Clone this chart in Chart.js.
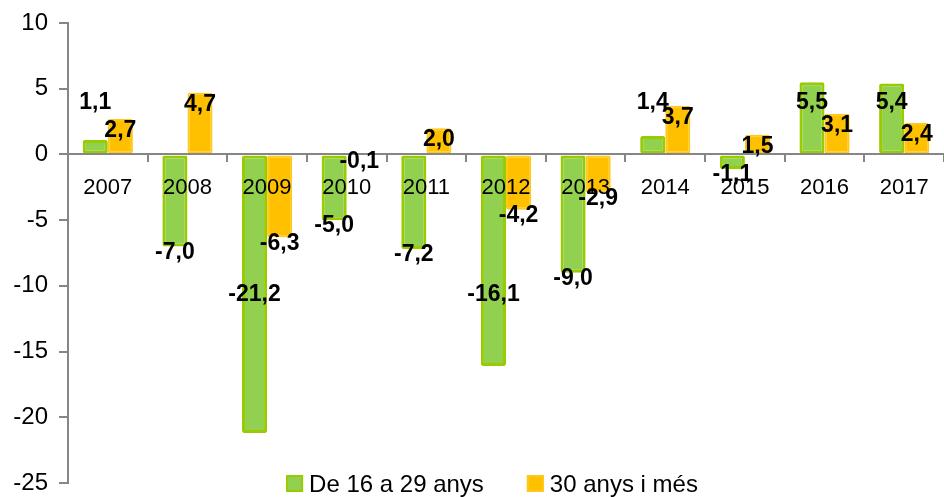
<!DOCTYPE html>
<html>
<head>
<meta charset="utf-8">
<script src="https://cdn.jsdelivr.net/npm/chart.js@4/dist/chart.umd.min.js"></script>
<style>
  html, body { margin: 0; padding: 0; background: #fff; }
  #wrap { width: 944px; height: 497px; }
</style>
</head>
<body>
<div id="wrap"><canvas id="atur"></canvas></div>
<script>
const years = ["2007", "2008", "2009", "2010", "2011", "2012", "2013", "2014", "2015", "2016", "2017"];
const joves = [1.1, -7.0, -21.2, -5.0, -7.2, -16.1, -9.0, 1.4, -1.1, 5.5, 5.4];
const grans = [2.7, 4.7, -6.3, -0.1, 2.0, -4.2, -2.9, 3.7, 1.5, 3.1, 2.4];
const seriesNames = ["De 16 a 29 anys", "30 anys i més"];

const FONT = "'Liberation Sans', Arial, sans-serif";
const AXIS = "#868686";

// etiquetes de valor amb coma decimal
const valueLabels = {
    id: "valueLabels",
    afterDraw(chart) {
        const ctx = chart.ctx;
        const zeroY = chart.scales.y.getPixelForValue(0);
        ctx.save();
        ctx.font = "bold 23px " + FONT;
        ctx.fillStyle = "#000";
        ctx.textAlign = "center";
        ctx.textBaseline = "middle";
        chart.data.datasets.forEach((ds, di) => {
            chart.getDatasetMeta(di).data.forEach((bar, i) => {
                const v = ds.data[i];
                let y;
                if (v >= 0) {
                    y = di === 0 ? zeroY - 52 : bar.y + 12;
                } else {
                    y = Math.min(bar.y + 6, zeroY + 140);
                }
                ctx.fillText(v.toFixed(1).replace(".", ","), bar.x, y);
            });
        });
        ctx.restore();
    }
};

// llegenda dibuixada dins l'area del grafic, com a l'original
const bottomLegend = {
    id: "bottomLegend",
    afterDraw(chart) {
        const ctx = chart.ctx;
        const area = chart.chartArea;
        const box = 17, gap = 6, spacing = 43;
        ctx.save();
        ctx.font = "24px " + FONT;
        ctx.textBaseline = "middle";
        ctx.textAlign = "left";
        const items = chart.data.datasets.map(ds => ({ ds, w: ctx.measureText(ds.label).width }));
        const total = items.reduce((s, it) => s + box + gap + it.w, 0) + spacing * (items.length - 1);
        let x = (area.left + area.right) / 2 - total / 2 - 14;
        const y = chart.height - 13.5;
        items.forEach(it => {
            ctx.fillStyle = it.ds.backgroundColor;
            ctx.fillRect(x, y - box / 2, box, box);
            ctx.strokeStyle = it.ds.borderColor;
            ctx.lineWidth = 2;
            ctx.strokeRect(x + 1, y - box / 2 + 1, box - 2, box - 2);
            ctx.fillStyle = "#000";
            ctx.fillText(it.ds.label, x + box + gap, y + 2);
            x += box + gap + it.w + spacing;
        });
        ctx.restore();
    }
};

new Chart(document.getElementById("atur"), {
    type: "bar",
    data: {
        labels: years,
        datasets: [{
            label: seriesNames[0],
            data: joves,
            backgroundColor: "#92D050",
            borderColor: "#99CC00",
            borderWidth: 3,
            borderSkipped: false,
            borderRadius: 2
        }, {
            label: seriesNames[1],
            data: grans,
            backgroundColor: "#FFC000",
            borderColor: "#FFC81A",
            borderWidth: 2,
            borderSkipped: false,
            borderRadius: 2
        }]
    },
    options: {
        responsive: true,
        maintainAspectRatio: false,
        animation: false,
        categoryPercentage: 0.63,
        barPercentage: 1.0,
        layout: { padding: { top: 23, bottom: 14, right: 0, left: 0 } },
        plugins: {
            legend: { display: false },
            tooltip: { enabled: false }
        },
        scales: {
            x: {
                position: { y: 0 },
                grid: {
                    drawOnChartArea: false,
                    drawTicks: true,
                    tickLength: 7,
                    color: AXIS,
                    lineWidth: 2
                },
                border: { color: AXIS, width: 2, z: 1 },
                ticks: {
                    z: 1,
                    color: "#000",
                    font: { family: FONT, size: 22 },
                    padding: 13,
                    maxRotation: 0,
                    autoSkip: false
                }
            },
            y: {
                min: -25,
                max: 10,
                afterFit(scale) {
                    scale.width = 68;
                    scale.paddingTop = 0;
                    scale.paddingBottom = 0;
                },
                grid: {
                    drawOnChartArea: false,
                    tickLength: 9,
                    color: AXIS,
                    lineWidth: 2
                },
                border: { color: AXIS, width: 2 },
                ticks: {
                    stepSize: 5,
                    color: "#000",
                    font: { family: FONT, size: 24 },
                    padding: 11
                }
            }
        }
    },
    plugins: [valueLabels, bottomLegend]
});
</script>
</body>
</html>
